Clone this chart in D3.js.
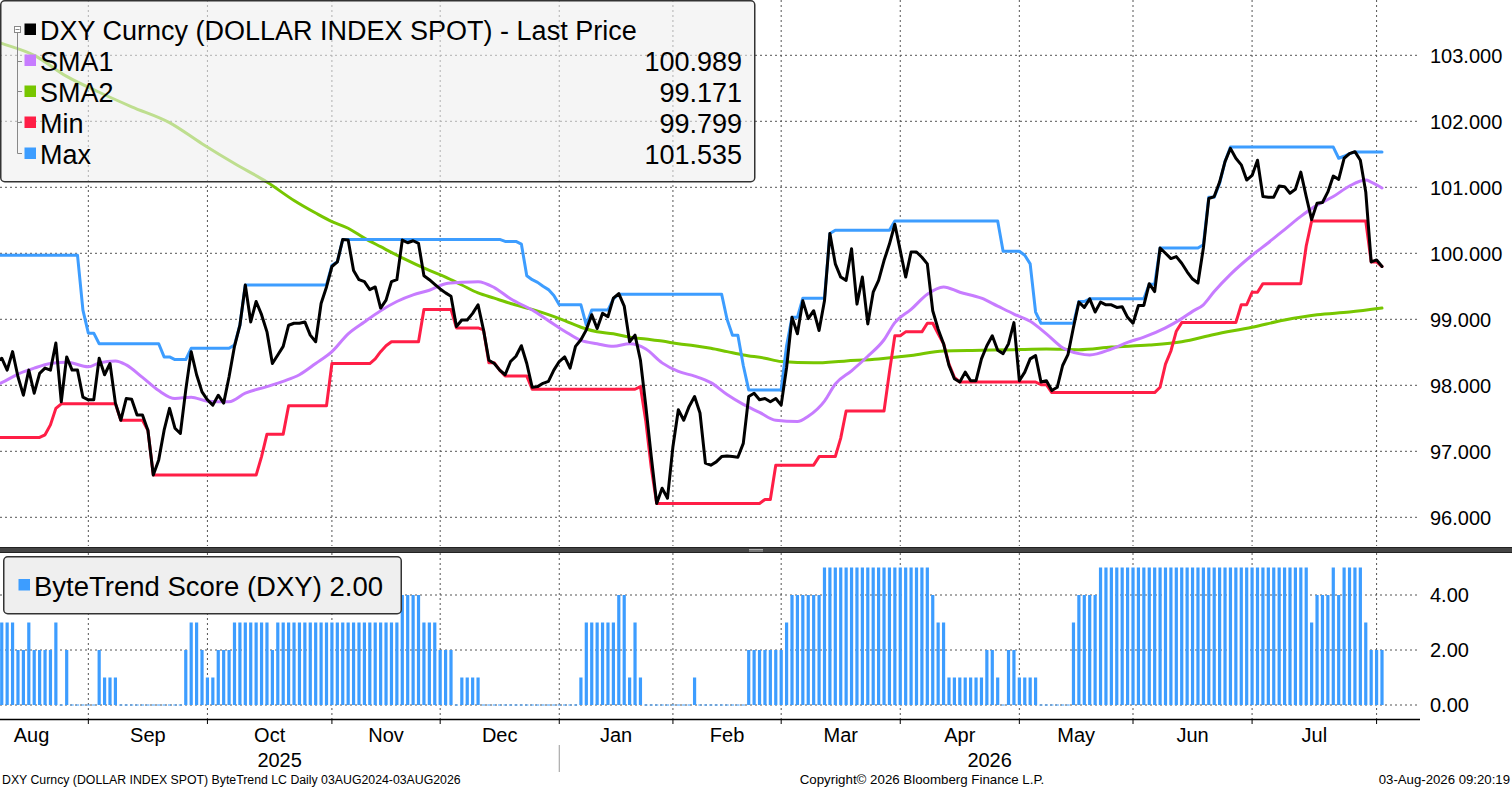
<!DOCTYPE html>
<html lang="en">
<head>
<meta charset="UTF-8">
<title>DXY ByteTrend</title>
<script src="https://d3js.org/d3.v7.min.js"></script>
<style>
  body { margin: 0; background: #fff; }
  svg text { font-family: "Liberation Sans", Arial, sans-serif; fill: #000; }
  .grid line { stroke: #555; stroke-width: 1; stroke-dasharray: 2,3; }
</style>
</head>
<body>
<svg width="1512" height="790"></svg>
<script>
// trading calendar (weekdays, exchange holidays removed)
const calStart = "2025-07-31", calEnd = "2026-08-03", dataStart = "2025-08-04";
const holidays = ["2025-12-25", "2026-01-01"];

// DXY last price, one value per trading day from dataStart
const price = [
  98.30, 98.20, 98.35, 98.41, 98.23, 98.51, 98.13, 97.85, 98.23, 97.88,
  98.18, 98.26, 98.23, 98.64, 97.75, 98.43, 98.23, 98.23, 97.82, 97.78,
  97.78, 98.41, 98.16, 98.33, 97.73, 97.47, 97.80, 97.79, 97.55, 97.55,
  97.32, 96.64, 96.87, 97.32, 97.65, 97.35, 97.27, 97.93, 98.51, 98.16,
  97.90, 97.78, 97.70, 97.85, 97.73, 98.13, 98.59, 98.91, 99.52, 98.96,
  99.27, 99.07, 98.81, 98.33, 98.46, 98.59, 98.91, 98.94, 98.94, 98.96,
  98.76, 98.66, 99.24, 99.49, 99.80, 99.87, 100.21, 100.20, 99.74, 99.60,
  99.57, 99.45, 99.49, 99.17, 99.29, 99.57, 99.60, 100.20, 100.16, 100.19,
  100.15, 99.66, 99.60, 99.53, 99.46, 99.40, 99.35, 98.89, 98.99, 98.99,
  99.09, 99.22, 98.84, 98.38, 98.33, 98.23, 98.16, 98.36, 98.44, 98.60,
  98.33, 97.97, 97.98, 98.03, 98.06, 98.23, 98.36, 98.43, 98.26, 98.59,
  98.69, 98.84, 99.07, 98.86, 99.09, 99.04, 99.32, 99.39, 99.20, 98.66,
  98.76, 98.38, 97.68, 96.92, 96.21, 96.44, 96.29, 97.07, 97.63, 97.47,
  97.68, 97.83, 97.58, 96.82, 96.79, 96.84, 96.92, 96.93, 96.92, 96.91,
  97.12, 97.83, 97.88, 97.78, 97.80, 97.75, 97.80, 97.70, 98.27, 99.03,
  98.78, 99.28, 99.01, 99.13, 98.83, 99.28, 100.30, 99.84, 99.64, 99.59,
  100.07, 99.23, 99.64, 98.93, 99.41, 99.59, 99.89, 100.14, 100.44, 100.04,
  99.64, 100.02, 100.02, 99.94, 99.84, 99.13, 98.85, 98.63, 98.30, 98.10,
  98.05, 98.20, 98.07, 98.07, 98.40, 98.60, 98.75, 98.53, 98.48, 98.63,
  98.95, 98.07, 98.20, 98.40, 98.45, 98.05, 98.07, 97.92, 97.97, 98.30,
  98.47, 98.88, 99.26, 99.18, 99.31, 99.11, 99.26, 99.22, 99.22, 99.18,
  99.19, 99.03, 98.94, 99.21, 99.21, 99.54, 99.42, 100.08, 100.00, 99.92,
  99.95, 99.85, 99.72, 99.61, 99.55, 100.08, 100.83, 100.86, 101.08, 101.39,
  101.59, 101.44, 101.34, 101.11, 101.18, 101.41, 100.86, 100.85, 100.85, 101.02,
  101.01, 100.91, 100.97, 101.23, 100.86, 100.51, 100.76, 100.77, 100.93, 101.17,
  101.12, 101.44, 101.51, 101.54, 101.41, 100.93, 99.87, 99.90, 99.80
];

// ByteTrend score, one value per trading day
const score = [
  3,3,3,3,3,3,2,2,3,2, 2,2,2,3,0,2,0,0,0,0, 0,2,1,1,1,0,0,0,0,0,
  0,0,0,0,0,0,0,2,3,3, 2,1,1,2,2,2,3,3,3,3, 3,3,3,2,3,3,3,3,3,3,
  3,3,3,3,3,3,3,3,3,3, 3,3,3,3,3,3,3,4,4,4, 4,3,3,3,2,2,2,0,1,1,
  1,1,0,0,0,0,0,0,0,0, 0,0,0,0,0,0,0,0,0,0, 1,3,3,3,3,3,3,4,4,1,
  3,1,0,0,0,0,0,0,0,0, 0,1,0,0,0,0,0,0,0,0, 0,2,2,2,2,2,2,2,3,4,
  4,4,4,4,4,5,5,5,5,5, 5,5,5,5,5,5,5,5,5,5, 5,5,5,5,5,4,3,3,1,1,
  1,1,1,1,1,2,2,1,0,2, 2,1,1,1,1,0,0,0,0,0, 0,3,4,4,4,4,5,5,5,5,
  5,5,5,5,5,5,5,5,5,5, 5,5,5,5,5,5,5,5,5,5, 5,5,5,5,5,5,5,5,5,5,
  5,5,5,5,5,3,4,4,4,5, 4,5,5,5,5,3,2,2,2
];

// Min / Max channel: [from trading day, level]
const minSteps = [
  [0, 97.21], [11, 97.25], [12, 97.40], [13, 97.65], [14, 97.72], [25, 97.47], [30, 97.32],
  [31, 96.64], [51, 96.92], [52, 97.26], [56, 97.69], [64, 98.33], [72, 98.40], [73, 98.51],
  [74, 98.60], [75, 98.66], [81, 99.15], [87, 98.87], [92, 98.84], [93, 98.34], [95, 98.23],
  [96, 98.14], [101, 97.94], [121, 97.98], [122, 97.45], [123, 96.75], [124, 96.21],
  [144, 96.27], [146, 96.79], [154, 96.92], [158, 97.20], [159, 97.61], [167, 98.20],
  [168, 98.75], [170, 98.81], [174, 98.94], [176, 98.78], [177, 98.63], [178, 98.32],
  [179, 98.12], [180, 98.05], [195, 98.01], [197, 97.89], [217, 97.97], [218, 98.32],
  [219, 98.52], [220, 98.82], [221, 98.95], [232, 99.22], [234, 99.41], [236, 99.54],
  [244, 100.11], [245, 100.49], [256, 99.87], [258, 99.80]
];
const maxSteps = [
  [0, 99.97], [18, 99.14], [19, 98.79], [21, 98.63], [33, 98.43], [35, 98.39], [38, 98.56],
  [46, 98.61], [47, 98.91], [48, 99.52], [64, 99.82], [65, 99.87], [66, 100.21], [96, 100.18],
  [99, 100.14], [100, 99.66], [101, 99.60], [102, 99.56], [103, 99.50], [104, 99.45],
  [105, 99.36], [106, 99.22], [111, 98.91], [112, 99.14], [116, 99.31], [117, 99.38],
  [137, 99.00], [138, 98.76], [140, 98.30], [141, 97.93], [148, 98.60], [149, 99.03],
  [151, 99.32], [156, 100.30], [157, 100.35], [168, 100.49], [188, 100.03], [192, 99.97],
  [193, 99.84], [194, 99.11], [195, 98.94], [202, 99.27], [204, 99.31], [215, 99.53],
  [217, 100.08], [225, 100.13], [226, 100.85], [228, 101.06], [229, 101.39], [230, 101.61],
  [250, 101.44], [251, 101.47], [252, 101.51], [253, 101.535]
];

// moving averages read at sample days: [trading day, value]
const sma1 = [
  [0, 97.95], [3, 98.04], [6, 98.17], [9, 98.26], [12, 98.33], [15, 98.35], [19, 98.28], [21, 98.34],
  [24, 98.37], [26, 98.31], [29, 98.12], [32, 97.92], [35, 97.80], [38, 97.82], [41, 97.76],
  [45, 97.75], [48, 97.88], [52, 97.98], [55, 98.06], [58, 98.16], [61, 98.33], [64, 98.51],
  [67, 98.78], [70, 98.96], [73, 99.13], [76, 99.27], [79, 99.37], [82, 99.44], [85, 99.54],
  [88, 99.56], [91, 99.57], [94, 99.48], [97, 99.31], [101, 99.14], [104, 98.98], [107, 98.82],
  [110, 98.68], [113, 98.63], [116, 98.59], [119, 98.63], [122, 98.55], [125, 98.34],
  [128, 98.21], [131, 98.14], [134, 98.04], [137, 97.86], [140, 97.71], [143, 97.59],
  [146, 97.47], [150, 97.45], [152, 97.53], [155, 97.76], [157, 98.02], [160, 98.22],
  [163, 98.44], [166, 98.69], [168, 98.95], [171, 99.15], [174, 99.38], [177, 99.49],
  [180, 99.41], [184, 99.32], [187, 99.20], [190, 99.08], [193, 98.97], [196, 98.78],
  [199, 98.57], [202, 98.48], [204, 98.46], [208, 98.55], [211, 98.65], [214, 98.73],
  [218, 98.87], [221, 99.01], [223, 99.12], [225, 99.22], [227, 99.42], [230, 99.68],
  [234, 99.97], [237, 100.16], [240, 100.36], [243, 100.56], [246, 100.73], [249, 100.86],
  [252, 101.02], [255, 101.11], [256, 101.08], [258, 100.99]
];
const sma2 = [
  [0, 103.26], [3, 103.18], [9, 103.00], [15, 102.68], [21, 102.44], [27, 102.22], [34, 101.98],
  [40, 101.66], [46, 101.36], [52, 101.08], [57, 100.80], [61, 100.61], [64, 100.48],
  [67, 100.38], [70, 100.23], [73, 100.10], [77, 99.93], [82, 99.74], [85, 99.64], [88, 99.52],
  [91, 99.40], [94, 99.32], [97, 99.24], [101, 99.15], [104, 99.07], [107, 98.98], [110, 98.88],
  [113, 98.81], [116, 98.78], [119, 98.73], [122, 98.70], [125, 98.67], [128, 98.63],
  [131, 98.60], [134, 98.56], [137, 98.51], [140, 98.46], [144, 98.41], [147, 98.36],
  [153, 98.34], [159, 98.37], [165, 98.40], [171, 98.45], [177, 98.52], [184, 98.53],
  [190, 98.54], [196, 98.55], [202, 98.54], [208, 98.58], [215, 98.61], [221, 98.66],
  [227, 98.77], [234, 98.88], [240, 98.99], [246, 99.07], [252, 99.11], [258, 99.17]
];

const priceTicks = [96, 97, 98, 99, 100, 101, 102, 103];
const scoreTicks = [0, 2, 4];
const legendNames = ["SMA1", "SMA2", "Min", "Max"];
const legendValues = ["100.989", "99.171", "99.799", "101.535"];
const legendColors = ["#c77cff", "#77c600", "#ff1e46", "#3d9dff"];
const title = "DXY Curncy (DOLLAR INDEX SPOT) - Last Price";
const scoreLabel = "ByteTrend Score (DXY) 2.00";
const footLeft = "DXY Curncy (DOLLAR INDEX SPOT) ByteTrend LC Daily 03AUG2024-03AUG2026";
const footMid = "Copyright\u00a9 2026 Bloomberg Finance L.P.";
const footRight = "03-Aug-2026 09:20:19";

const svg = d3.select("svg");
const W = 1512, plotRight = 1418;

const parse = d3.utcParse("%Y-%m-%d"), fmt = d3.utcFormat("%Y-%m-%d");
const calendar = d3.utcDay.range(parse(calStart), d3.utcDay.offset(parse(calEnd), 1))
  .filter(d => d.getUTCDay() % 6 !== 0 && !holidays.includes(fmt(d)));
const lead = calendar.findIndex(d => fmt(d) === dataStart);

const x = d3.scaleLinear().domain([lead, calendar.length - 1]).range([-14.5, 1382]);
const xd = i => x(i + lead);
const y = d3.scaleLinear().domain([96, 103]).range([517.3, 55.3]);
const ys = d3.scaleLinear().domain([0, 4]).range([705, 595]);

const expand = steps => price.map((_, i) => {
  let v = steps[0][1];
  for (const s of steps) if (s[0] <= i) v = s[1];
  return v;
});
const minLine = expand(minSteps), maxLine = expand(maxSteps);

// month boundaries: gridline sits on the last trading day of the previous month
const monthStarts = [];
calendar.forEach((d, i) => {
  if (i > 0 && d.getUTCMonth() !== calendar[i - 1].getUTCMonth()) monthStarts.push(i);
});
const bounds = [x(0) - 5.4].concat(monthStarts.map(i => x(i - 1)));

const defs = svg.append("defs");
defs.append("clipPath").attr("id", "clipTop").append("rect")
  .attr("x", 0).attr("y", 0).attr("width", plotRight).attr("height", 546);
defs.append("clipPath").attr("id", "clipBot").append("rect")
  .attr("x", 0).attr("y", 553).attr("width", plotRight).attr("height", 166);

// ---- grids
const gTop = svg.append("g").attr("class", "grid");
gTop.selectAll(".h").data(priceTicks).join("line")
  .attr("x1", 0).attr("x2", plotRight).attr("y1", d => y(d)).attr("y2", d => y(d));
gTop.selectAll(".v").data(bounds.slice(1)).join("line")
  .attr("x1", d => d).attr("x2", d => d).attr("y1", 0).attr("y2", 546);

const gBot = svg.append("g").attr("class", "grid");
gBot.selectAll(".h").data(scoreTicks).join("line")
  .attr("x1", 0).attr("x2", plotRight).attr("y1", d => ys(d)).attr("y2", d => ys(d));
gBot.selectAll(".v").data(bounds.slice(1)).join("line")
  .attr("x1", d => d).attr("x2", d => d).attr("y1", 553).attr("y2", 719);

// ---- price panel lines
const gPrice = svg.append("g").attr("clip-path", "url(#clipTop)");
const lineIdx = d3.line().x((d, i) => xd(i)).y(d => y(d));
const linePair = d3.line().curve(d3.curveMonotoneX).x(d => xd(d[0])).y(d => y(d[1]));
const draw = (g, path, color) => g.append("path").attr("d", path)
  .attr("fill", "none").attr("stroke", color).attr("stroke-width", 3)
  .attr("stroke-linejoin", "round").attr("stroke-linecap", "round");

draw(gPrice, linePair(sma2), legendColors[1]);
draw(gPrice, linePair(sma1), legendColors[0]);
draw(gPrice, lineIdx(minLine), legendColors[2]);
draw(gPrice, lineIdx(maxLine), legendColors[3]);
draw(gPrice, lineIdx(price), "#000");

// ---- price axis labels
svg.append("g").selectAll("text").data(priceTicks).join("text")
  .attr("x", 1430).attr("y", d => y(d)).attr("dy", "0.36em")
  .style("font-size", "20px").text(d => d3.format(".3f")(d));

// ---- upper legend
const leg = svg.append("g");
leg.append("rect").attr("x", 0.75).attr("y", 0.75).attr("width", 754).attr("height", 181)
  .attr("rx", 4).attr("fill", "#efefef").attr("fill-opacity", 0.6)
  .attr("stroke", "#333").attr("stroke-width", 1.5);
leg.append("rect").attr("x", 14.5).attr("y", 26.5).attr("width", 6).attr("height", 6)
  .attr("fill", "#fff").attr("stroke", "#888");
leg.append("line").attr("x1", 15.5).attr("x2", 19.5).attr("y1", 29.5).attr("y2", 29.5).attr("stroke", "#888");
leg.append("path").attr("fill", "none").attr("stroke", "#888")
  .attr("d", "M17.5,33V153.5H22" + [61.5, 91.5, 122.5].map(v => `M17.5,${v}H22`).join(""));
const rowY = i => 40 + i * 31;
leg.append("rect").attr("x", 24.5).attr("y", 23.5).attr("width", 11.5).attr("height", 11.5).attr("fill", "#000");
leg.append("text").attr("x", 40).attr("y", rowY(0)).style("font-size", "27px").text(title);
legendNames.forEach((n, k) => {
  const i = k + 1;
  leg.append("rect").attr("x", 24.5).attr("y", rowY(i) - 16.5).attr("width", 11.5).attr("height", 11.5)
    .attr("fill", legendColors[k]);
  leg.append("text").attr("x", 40).attr("y", rowY(i)).style("font-size", "27px").text(n);
  leg.append("text").attr("x", 742).attr("y", rowY(i)).attr("text-anchor", "end")
    .style("font-size", "27px").text(legendValues[k]);
});

// ---- panel divider
svg.append("rect").attr("x", 0).attr("y", 547.5).attr("width", W).attr("height", 5).attr("fill", "#454545");
svg.append("line").attr("x1", 0).attr("x2", W).attr("y1", 547.5).attr("y2", 547.5).attr("stroke", "#222");
svg.append("line").attr("x1", 0).attr("x2", W).attr("y1", 552.5).attr("y2", 552.5).attr("stroke", "#222");
[549.5, 551].forEach(v => svg.append("line").attr("x1", 749).attr("x2", 763)
  .attr("y1", v).attr("y2", v).attr("stroke", "#aaa"));

// ---- score bars
svg.append("g").attr("clip-path", "url(#clipBot)")
  .selectAll("rect").data(score).join("rect")
  .attr("x", (d, i) => xd(i) - 1.6).attr("width", 3.2)
  .attr("y", d => d > 0 ? ys(d) : ys(0) - 0.5)
  .attr("height", d => d > 0 ? ys(0) - ys(d) : 1)
  .attr("fill", "#3d9dff");

svg.append("g").selectAll("text").data(scoreTicks).join("text")
  .attr("x", 1430).attr("y", d => ys(d)).attr("dy", "0.36em")
  .style("font-size", "20px").text(d => d3.format(".2f")(d));

// lower legend
svg.append("rect").attr("x", 3.75).attr("y", 556.75).attr("width", 397.5).attr("height", 57)
  .attr("rx", 4).attr("fill", "#efefef").attr("stroke", "#333").attr("stroke-width", 1.5);
svg.append("rect").attr("x", 18.5).attr("y", 579).attr("width", 11.5).attr("height", 11.5).attr("fill", "#3d9dff");
svg.append("text").attr("x", 34).attr("y", 596).style("font-size", "27.5px").text(scoreLabel);

// ---- time axis
svg.append("line").attr("x1", 0).attr("x2", 1420).attr("y1", 719.5).attr("y2", 719.5)
  .attr("stroke", "#000").attr("stroke-width", 1.5);
svg.append("g").selectAll("line").data(bounds.slice(1)).join("line")
  .attr("x1", d => d).attr("x2", d => d).attr("y1", 719).attr("y2", 724).attr("stroke", "#000");

const monthFmt = d3.utcFormat("%b");
const months = bounds.map((b, k) => ({
  x0: b, x1: k + 1 < bounds.length ? bounds[k + 1] : x(calendar.length - 1),
  date: calendar[k === 0 ? 0 : monthStarts[k - 1]]
})).filter(m => m.x1 - m.x0 > 60);
svg.append("g").selectAll("text").data(months).join("text")
  .attr("x", m => (m.x0 + m.x1) / 2).attr("y", 742).attr("text-anchor", "middle")
  .style("font-size", "20px").text(m => monthFmt(m.date));

// year labels, split at the first January
const janIdx = monthStarts.find(i => calendar[i].getUTCMonth() === 0);
const janX = x(janIdx - 1);
const years = [
  { x: janX / 2, label: d3.utcFormat("%Y")(calendar[0]) },
  { x: (janX + 1420) / 2, label: d3.utcFormat("%Y")(calendar[janIdx]) }
];
svg.append("g").selectAll("text").data(years).join("text")
  .attr("x", d => d.x).attr("y", 767).attr("text-anchor", "middle")
  .style("font-size", "20px").text(d => d.label);
svg.append("line").attr("x1", janX).attr("x2", janX).attr("y1", 745).attr("y2", 772)
  .attr("stroke", "#999");

// ---- footer
svg.append("text").attr("x", 2).attr("y", 784).style("font-size", "12.3px").text(footLeft);
svg.append("text").attr("x", 922).attr("y", 784).attr("text-anchor", "middle").style("font-size", "13.3px").text(footMid);
svg.append("text").attr("x", 1510).attr("y", 784).attr("text-anchor", "end").style("font-size", "13.2px").text(footRight);
</script>
</body>
</html>
